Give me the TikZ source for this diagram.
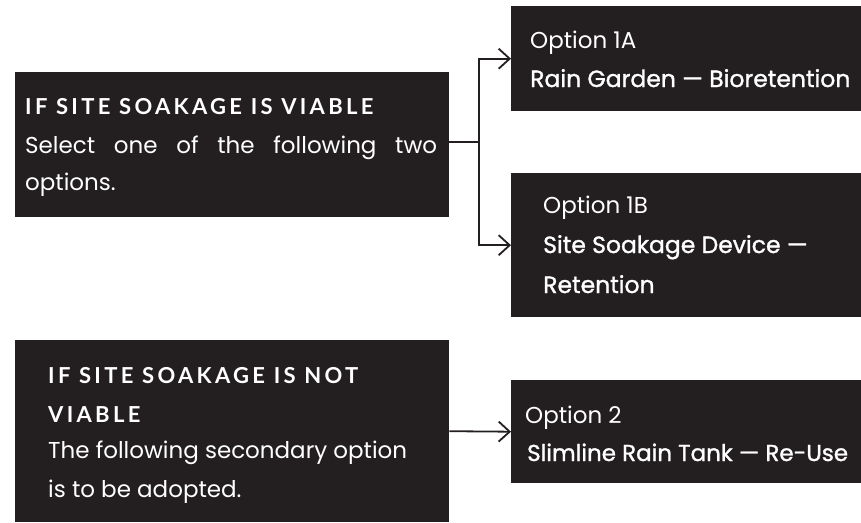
\documentclass[tikz,border=0pt]{standalone}
\usepackage{fontspec}
\setmainfont{Poppins}
\newfontfamily\titlefont[LetterSpace=15]{Lato}
\newfontfamily\medfont[FakeBold=1.2]{Poppins}
\usetikzlibrary{arrows.meta}
\definecolor{boxc}{HTML}{231F20}
\definecolor{linec}{HTML}{231F20}
\tikzset{
  darkbox/.style={draw=none, fill=boxc, inner sep=0pt, anchor=north west},
  arr/.style={draw=linec, line width=1.8pt, -{Straight Barb[length=11pt,width=20pt,line width=1.8pt]}},
  plain/.style={draw=linec, line width=1.8pt},
  txt/.style={text=white, anchor=base west, inner sep=0pt, font=\fontsize{23}{26}\selectfont},
  bold/.style={text=white, anchor=base west, inner sep=0pt, font=\fontsize{23.5}{26}\medfont},
  ttl/.style={text=white, anchor=base west, inner sep=0pt, font=\fontsize{22}{25}\titlefont\bfseries}
}
\begin{document}
\begin{tikzpicture}[x=1pt,y=-1pt]
\useasboundingbox (0,0) rectangle (861,522);
% boxes
\node[darkbox, minimum width=434pt, minimum height=145pt] (b1) at (15,72) {};
\node[darkbox, minimum width=350pt, minimum height=105pt] (b1a) at (511,6) {};
\node[darkbox, minimum width=350pt, minimum height=144pt] (b1b) at (511,173) {};
\node[darkbox, minimum width=434pt, minimum height=182pt] (b2) at (15,340) {};
\node[darkbox, minimum width=350pt, minimum height=103pt] (b2o) at (511,380) {};
% texts box 1
\node[ttl] (t1) at (25,114) {IF SITE SOAKAGE IS VIABLE};
\node[txt] (t1b) at (25,153) {\makebox[412pt][s]{Select one of the following two}};
\node[txt] (t1c) at (25,190) {options.};
% option 1A
\node[txt] (a1) at (530,48) {Option 1A};
\node[bold] (a2) at (530,87) {Rain Garden — Bioretention};
% option 1B
\node[txt] (c1) at (543,213) {Option 1B};
\node[bold] (c2) at (543,253) {Site Soakage Device —};
\node[bold] (c3) at (543,293) {Retention};
% box 2
\node[ttl] (d1) at (48,383) {IF SITE SOAKAGE IS NOT};
\node[ttl] (d2) at (48,422) {VIABLE};
\node[txt] (d3) at (48,458) {The following secondary option};
\node[txt] (d4) at (48,497) {is to be adopted.};
% option 2
\node[txt] (e1) at (525,423) {Option 2};
\node[bold, font=\fontsize{23}{26}\medfont] (e2) at (527,461) {Slimline Rain Tank — Re-Use};
% connectors
\coordinate (split) at (479,142);
\draw[plain] (b1.east |- split) -- (split);
\draw[arr] (split) |- (b1a.west);
\draw[arr] (split) |- (b1b.west);
\draw[arr] (b2.east) -- (b2o.west);
\end{tikzpicture}
\end{document}
